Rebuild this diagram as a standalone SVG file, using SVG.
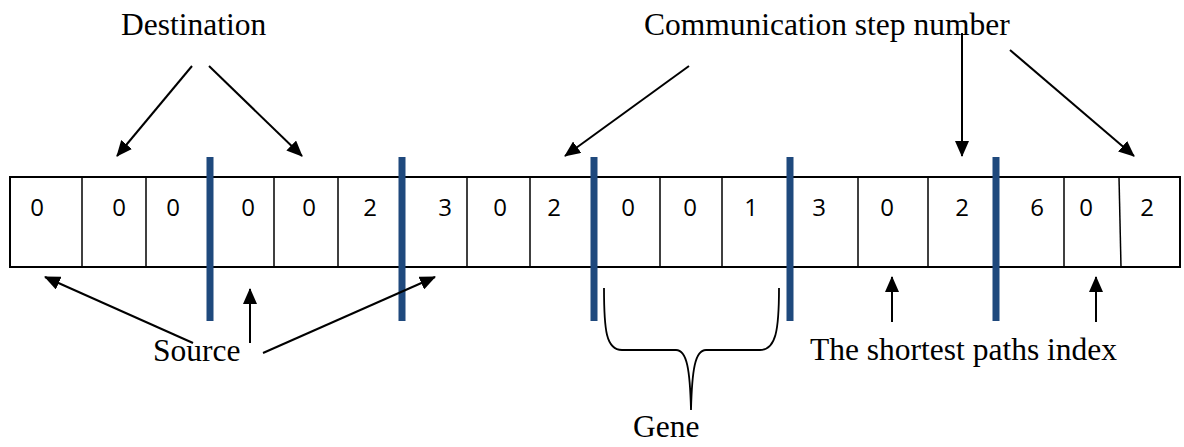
<svg xmlns="http://www.w3.org/2000/svg" width="1184" height="447" viewBox="0 0 1184 447">
<style>
.lbl{font-family:"Liberation Serif","Times New Roman",serif;font-size:31.5px;fill:#000}
.dig{font-family:"Open Sans","Liberation Sans",sans-serif;font-size:24px;fill:#000;text-anchor:middle}
.cell{fill:none;stroke:#000;stroke-width:2}
.div{stroke:#000;stroke-width:1.5}
.bar{fill:#1F497D}
.arr{stroke:#000;stroke-width:2;fill:none;marker-end:url(#ah)}
</style>
<defs>
<marker id="ah" markerUnits="userSpaceOnUse" markerWidth="16" markerHeight="14" refX="15" refY="7" orient="auto">
<path d="M0,0 L16,7 L0,14 z" fill="#000"/>
</marker>
</defs>
<rect width="1184" height="447" fill="#fff"/>
<g id="chromosome">
<rect class="cell" x="10" y="177" width="1170" height="90"/>
<g>
<line class="div" x1="82" y1="177" x2="82" y2="267"/>
<line class="div" x1="146" y1="177" x2="146" y2="267"/>
<line class="div" x1="274" y1="177" x2="274" y2="267"/>
<line class="div" x1="338" y1="177" x2="338" y2="267"/>
<line class="div" x1="467" y1="177" x2="467" y2="267"/>
<line class="div" x1="530" y1="177" x2="530" y2="267"/>
<line class="div" x1="660" y1="177" x2="660" y2="267"/>
<line class="div" x1="722" y1="177" x2="722" y2="267"/>
<line class="div" x1="858" y1="177" x2="858" y2="267"/>
<line class="div" x1="928" y1="177" x2="928" y2="267"/>
<line class="div" x1="1064" y1="177" x2="1064" y2="267"/>
<line class="div" x1="1119" y1="177" x2="1121" y2="267"/>
</g>
<g>
<text class="dig" x="37" y="216">0</text>
<text class="dig" x="119" y="216">0</text>
<text class="dig" x="173" y="216">0</text>
<text class="dig" x="248" y="216">0</text>
<text class="dig" x="309" y="216">0</text>
<text class="dig" x="370" y="216">2</text>
<text class="dig" x="445" y="216">3</text>
<text class="dig" x="500" y="216">0</text>
<text class="dig" x="554" y="216">2</text>
<text class="dig" x="628" y="216">0</text>
<text class="dig" x="690" y="216">0</text>
<text class="dig" x="751" y="216">1</text>
<text class="dig" x="819" y="216">3</text>
<text class="dig" x="887" y="216">0</text>
<text class="dig" x="962" y="216">2</text>
<text class="dig" x="1037" y="216">6</text>
<text class="dig" x="1086" y="216">0</text>
<text class="dig" x="1147" y="216">2</text>
</g>
</g>
<g id="separators">
<rect class="bar" x="206.5" y="157" width="7" height="164"/>
<rect class="bar" x="398.5" y="157" width="7" height="164"/>
<rect class="bar" x="590.5" y="157" width="7" height="164"/>
<rect class="bar" x="786.5" y="157" width="7" height="164"/>
<rect class="bar" x="992.5" y="157" width="7" height="164"/>
</g>
<g id="label-destination"><text class="lbl" x="121" y="35">Destination</text></g>
<g id="label-comm"><text class="lbl" x="644" y="35">Communication step number</text></g>
<g id="label-source"><text class="lbl" x="153" y="361">Source</text></g>
<g id="label-index"><text class="lbl" x="810" y="360">The shortest paths index</text></g>
<g id="label-gene"><text class="lbl" x="633" y="437">Gene</text></g>
<g id="connectors">
<line class="arr" x1="192" y1="66" x2="117" y2="156"/>
<line class="arr" x1="209" y1="66" x2="302" y2="156"/>
<line class="arr" x1="689" y1="66" x2="565" y2="156"/>
<line class="arr" x1="962" y1="33" x2="962" y2="156"/>
<line class="arr" x1="1010" y1="50" x2="1134" y2="156"/>
<line class="arr" x1="193" y1="343" x2="45" y2="277"/>
<line class="arr" x1="250" y1="343" x2="250" y2="289"/>
<line class="arr" x1="263" y1="353" x2="435" y2="277"/>
<line class="arr" x1="892" y1="322" x2="892" y2="277"/>
<line class="arr" x1="1096" y1="322" x2="1096" y2="277"/>
<path d="M604,288 C604,330 606,350 622,350 L676,350 C687,350 690,370 691,410 C692,370 695,350 706,350 L760,350 C776,350 779,330 779,288" fill="none" stroke="#000" stroke-width="1.8"/>
</g>
</svg>
